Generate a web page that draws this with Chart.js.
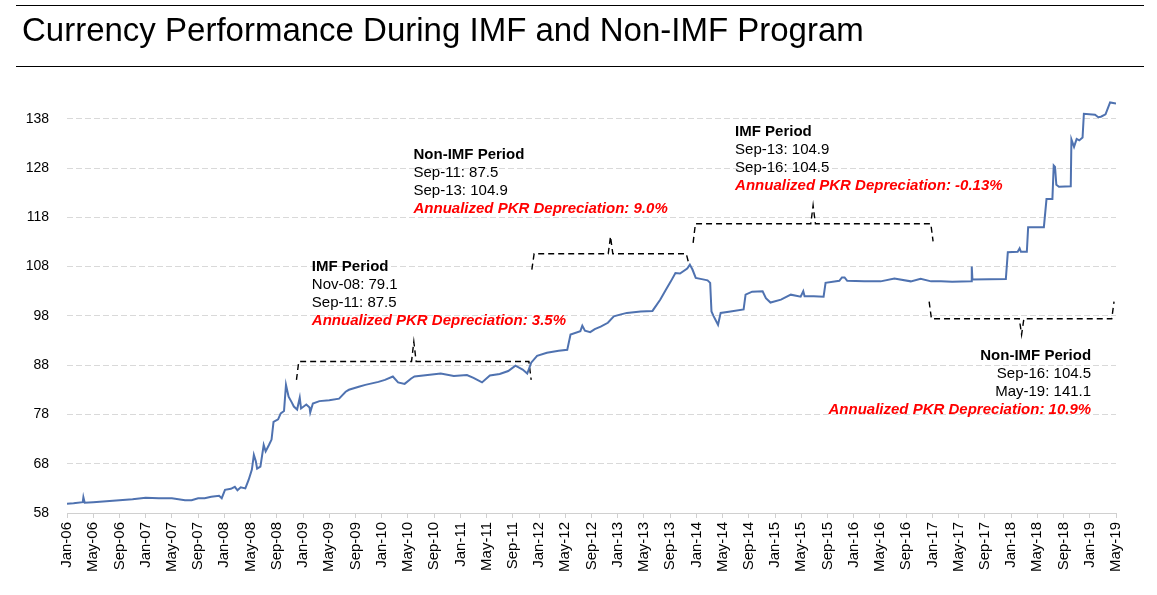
<!DOCTYPE html>
<html>
<head>
  <title>Currency Performance During IMF and Non-IMF Program</title>
  <meta name="viewport" content="width=device-width, initial-scale=1">
  <script src="https://cdn.jsdelivr.net/npm/chart.js"></script>
  <style>
    body {
      margin: 0;
      padding: 0;
      background: #fff;
      font-family: 'Liberation Sans', Arial, sans-serif;
    }

    #wrap {
      position: relative;
      width: 1157px;
      height: 595px;
    }

    .judul {
      position: absolute;
      left: 16px;
      top: 5px;
      width: 1128px;
      height: 60px;
      border-top: 1px solid #000;
      border-bottom: 1px solid #000;
      z-index: 2;
    }

    .judul span {
      position: absolute;
      left: 6px;
      top: 5px;
      font-size: 33px;
      line-height: 37px;
      color: #000;
      white-space: nowrap;
    }

    canvas {
      position: absolute;
      left: 0;
      top: 0;
    }
  </style>
</head>
<body>

  <div id="wrap">
    <div class="judul"><span>Currency Performance During IMF and Non-IMF Program</span></div>
    <canvas id="myChart" width="1157" height="595"></canvas>
  </div>

  <script>
    // x axis: months counted from Jan-06, a label every 4 months
    const tickLabels = [
      'Jan-06', 'May-06', 'Sep-06', 'Jan-07', 'May-07', 'Sep-07', 'Jan-08', 'May-08', 'Sep-08',
      'Jan-09', 'May-09', 'Sep-09', 'Jan-10', 'May-10', 'Sep-10', 'Jan-11', 'May-11', 'Sep-11',
      'Jan-12', 'May-12', 'Sep-12', 'Jan-13', 'May-13', 'Sep-13', 'Jan-14', 'May-14', 'Sep-14',
      'Jan-15', 'May-15', 'Sep-15', 'Jan-16', 'May-16', 'Sep-16', 'Jan-17', 'May-17', 'Sep-17',
      'Jan-18', 'May-18', 'Sep-18', 'Jan-19', 'May-19'
    ];
    const yTicks = [58, 68, 78, 88, 98, 108, 118, 128, 138];

    // PKR per USD (month offset from Jan-06, value)
    const months = [
      0, 1, 2.4, 2.5, 2.7, 4, 6, 8, 10, 12, 14, 16, 18, 19, 20, 21, 22, 23.2, 23.6, 24.1,
      25, 25.6, 26, 26.5, 27.2, 27.7, 28.2, 28.5, 28.8, 29, 29.5, 30, 30.3, 30.8, 31.2, 31.5,
      32.2, 32.6, 33.1, 33.4, 33.8, 34.3, 34.6, 35.1, 35.5, 35.7, 36.5, 37, 37.1, 37.5, 38.5,
      40, 41.5, 42.5, 43, 44.5, 45.5, 46.5, 47.5, 48.5, 49.7, 50.5, 51.5, 52.5, 53, 55, 57, 59, 61, 62,
      63.3, 64.5, 66, 67.3, 68.4, 69.5, 70.2, 70.8, 71.7, 73.2, 75, 76.3, 76.8, 78.3, 78.6,
      79, 79.8, 80.5, 81.4, 82.5, 83.4, 84.5, 85.4, 87.5, 89.3, 90.5, 91.3, 92.1, 92.8, 93.5,
      94.6, 95, 95.4, 95.9, 97, 97.7, 98.1, 98.3, 98.6, 99.3, 99.7, 101.2, 103.2, 103.5,
      104.5, 106.1, 106.6, 107.3, 108.9, 110.4, 111.9, 112.3, 112.5, 113.9, 115.4, 115.7,
      117.8, 118.2, 118.6, 119, 121.6, 124.1, 126.2, 128.7, 130.2, 131.8, 133.3, 135, 137.9,
      138, 138.1, 143.2, 143.5, 145, 145.3, 145.5, 146.4, 146.6, 149, 149.4, 150.3, 150.5,
      150.7, 150.9, 151.3, 153.1, 153.2, 153.6, 154, 154.4, 154.9, 155.1, 156.8, 157.3,
      157.7, 158.4, 159.1, 160
    ];
    const pkr = [
      59.9, 60.0, 60.2, 61.2, 60.1, 60.2, 60.4, 60.6, 60.8, 61.1, 61.0, 61.0, 60.6, 60.6, 61.0, 61.0, 61.3, 61.5, 61.0, 62.7,
      62.9, 63.3, 62.6, 63.2, 63.0, 64.7, 66.8, 69.8, 68.5, 67.0, 67.4, 71.8, 70.5, 71.8, 72.9, 76.5,
      77.0, 78.2, 78.7, 84.0, 81.6, 80.4, 79.6, 79.0, 81.4, 79.2, 80.0, 79.4, 78.4, 80.2, 80.7,
      80.9, 81.2, 82.6, 83.0, 83.6, 84.0, 84.3, 84.6, 85.0, 85.7, 84.5, 84.2, 85.3, 85.7, 86.0, 86.3, 85.8, 86.0, 85.4,
      84.5, 85.9, 86.2, 86.8, 87.9, 87.1, 86.3, 88.5, 89.9, 90.5, 90.9, 91.1, 94.2, 94.9, 96.0,
      95.0, 94.7, 95.3, 95.8, 96.6, 97.9, 98.3, 98.6, 98.9, 99.0, 101.3, 103.2, 105.0, 106.7, 106.6,
      107.6, 108.4, 107.4, 105.7, 105.4, 105.2, 104.7, 98.9, 98.0, 96.2, 98.6, 98.9, 99.3, 102.3,
      102.9, 103.0, 101.6, 100.7, 101.3, 102.3, 101.9, 103.0, 102.0, 102.0, 101.9, 104.7,
      105.1, 105.8, 105.8, 105.1, 105.0, 105.0, 105.6, 105.0, 105.5, 105.0, 105.0, 104.9, 105.0,
      108.0, 105.4, 105.5, 110.9, 111.0, 111.7, 111.0, 111.0, 116.0, 116.0, 121.7, 121.7, 128.5,
      128.2, 124.6, 124.2, 124.3, 133.8, 132.3, 133.9, 133.6, 134.2, 139.0, 138.8, 138.3,
      138.4, 138.9, 141.3, 141.1
    ];

    // period brackets: from / to month, bracket level, end levels, centre mark
    const brackets = [
      { from: 35.0, to: 70.8, level: 88.75, endL: 85.0, endR: 85.0, mid: 52.9, tip: 92.75 },
      { from: 70.9, to: 94.8, level: 110.6, endL: 107.4, endR: 108.8, mid: 82.9, tip: 114.1 },
      { from: 95.5, to: 132.1, level: 116.7, endL: 112.8, endR: 113.1, mid: 113.8, tip: 120.4 },
      { from: 131.5, to: 159.7, level: 97.4, endL: 100.9, endR: 100.9, mid: 145.6, tip: 94.2 }
    ];

    const notes = [
      { x: 37.34, y: 107.2, align: 'left',
        lines: ['IMF Period', 'Nov-08: 79.1', 'Sep-11: 87.5', 'Annualized PKR Depreciation: 3.5%'] },
      { x: 52.85, y: 129.9, align: 'left',
        lines: ['Non-IMF Period', 'Sep-11: 87.5', 'Sep-13: 104.9', 'Annualized PKR Depreciation: 9.0%'] },
      { x: 101.9, y: 134.55, align: 'left',
        lines: ['IMF Period', 'Sep-13: 104.9', 'Sep-16: 104.5', 'Annualized PKR Depreciation: -0.13%'] },
      { x: 156.2, y: 89.07, align: 'right',
        lines: ['Non-IMF Period', 'Sep-16: 104.5', 'May-19: 141.1', 'Annualized PKR Depreciation: 10.9%'] }
    ];

    function titikKurung(b) {
      const k = 0.35;
      return [
        { x: b.from, y: b.endL },
        { x: b.from + k, y: b.level },
        { x: b.mid - k, y: b.level },
        { x: b.mid, y: b.tip },
        { x: b.mid + k, y: b.level },
        { x: b.to - k, y: b.level },
        { x: b.to, y: b.endR }
      ];
    }

    const catatan = {
      id: 'catatan',
      afterDatasetsDraw(chart) {
        const { ctx, scales } = chart;
        ctx.save();
        ctx.textBaseline = 'alphabetic';
        notes.forEach(n => {
          const px = scales.x.getPixelForValue(n.x);
          const py = scales.y.getPixelForValue(n.y);
          ctx.textAlign = n.align;
          n.lines.forEach((line, i) => {
            if (i === 0) {
              ctx.font = "bold 15px 'Liberation Sans', Arial, sans-serif";
              ctx.fillStyle = '#000';
            } else if (i === 3) {
              ctx.font = "italic bold 15px 'Liberation Sans', Arial, sans-serif";
              ctx.fillStyle = '#ff0000';
            } else {
              ctx.font = "15px 'Liberation Sans', Arial, sans-serif";
              ctx.fillStyle = '#000';
            }
            ctx.fillText(line, px, py + i * 18);
          });
        });
        ctx.restore();
      }
    };

    Chart.defaults.font.family = "'Liberation Sans', Arial, sans-serif";
    Chart.defaults.color = '#000';

    const datasets = [{
      label: 'PKR',
      data: months.map((m, i) => ({ x: m, y: pkr[i] })),
      borderColor: '#4f72b0',
      borderWidth: 2,
      pointRadius: 0,
      tension: 0
    }];
    brackets.forEach(b => {
      datasets.push({
        label: 'bracket',
        data: titikKurung(b),
        borderColor: '#000',
        borderWidth: 1.4,
        borderDash: [6, 4],
        pointRadius: 0,
        tension: 0
      });
    });

    const ctx = document.getElementById('myChart').getContext('2d');
    const chart = new Chart(ctx, {
      type: 'line',
      data: { datasets },
      options: {
        responsive: false,
        animation: false,
        events: [],
        layout: { padding: { top: 99, right: 41, bottom: 0, left: 0 } },
        plugins: {
          legend: { display: false },
          tooltip: { enabled: false }
        },
        scales: {
          x: {
            type: 'linear',
            min: 0,
            max: 160,
            afterBuildTicks: scale => {
              scale.ticks = tickLabels.map((_, i) => ({ value: i * 4 }));
            },
            afterFit: scale => { scale.height = 82; },
            ticks: {
              autoSkip: false,
              minRotation: 90,
              maxRotation: 90,
              padding: 4,
              font: { size: 15 },
              callback: value => tickLabels[Math.round(value / 4)]
            },
            grid: {
              drawOnChartArea: false,
              drawTicks: true,
              tickLength: 5,
              color: '#d0d0d0'
            },
            border: { display: true, color: '#d0d0d0' }
          },
          y: {
            min: 58,
            max: 142,
            afterBuildTicks: scale => {
              scale.ticks = yTicks.map(v => ({ value: v }));
            },
            afterFit: scale => { scale.width = 67; },
            ticks: {
              padding: 18,
              font: { size: 14 }
            },
            grid: {
              drawTicks: false,
              color: '#d9d9d9'
            },
            border: { display: false, dash: [6, 3] }
          }
        }
      },
      plugins: [catatan]
    });
  </script>

</body>
</html>
